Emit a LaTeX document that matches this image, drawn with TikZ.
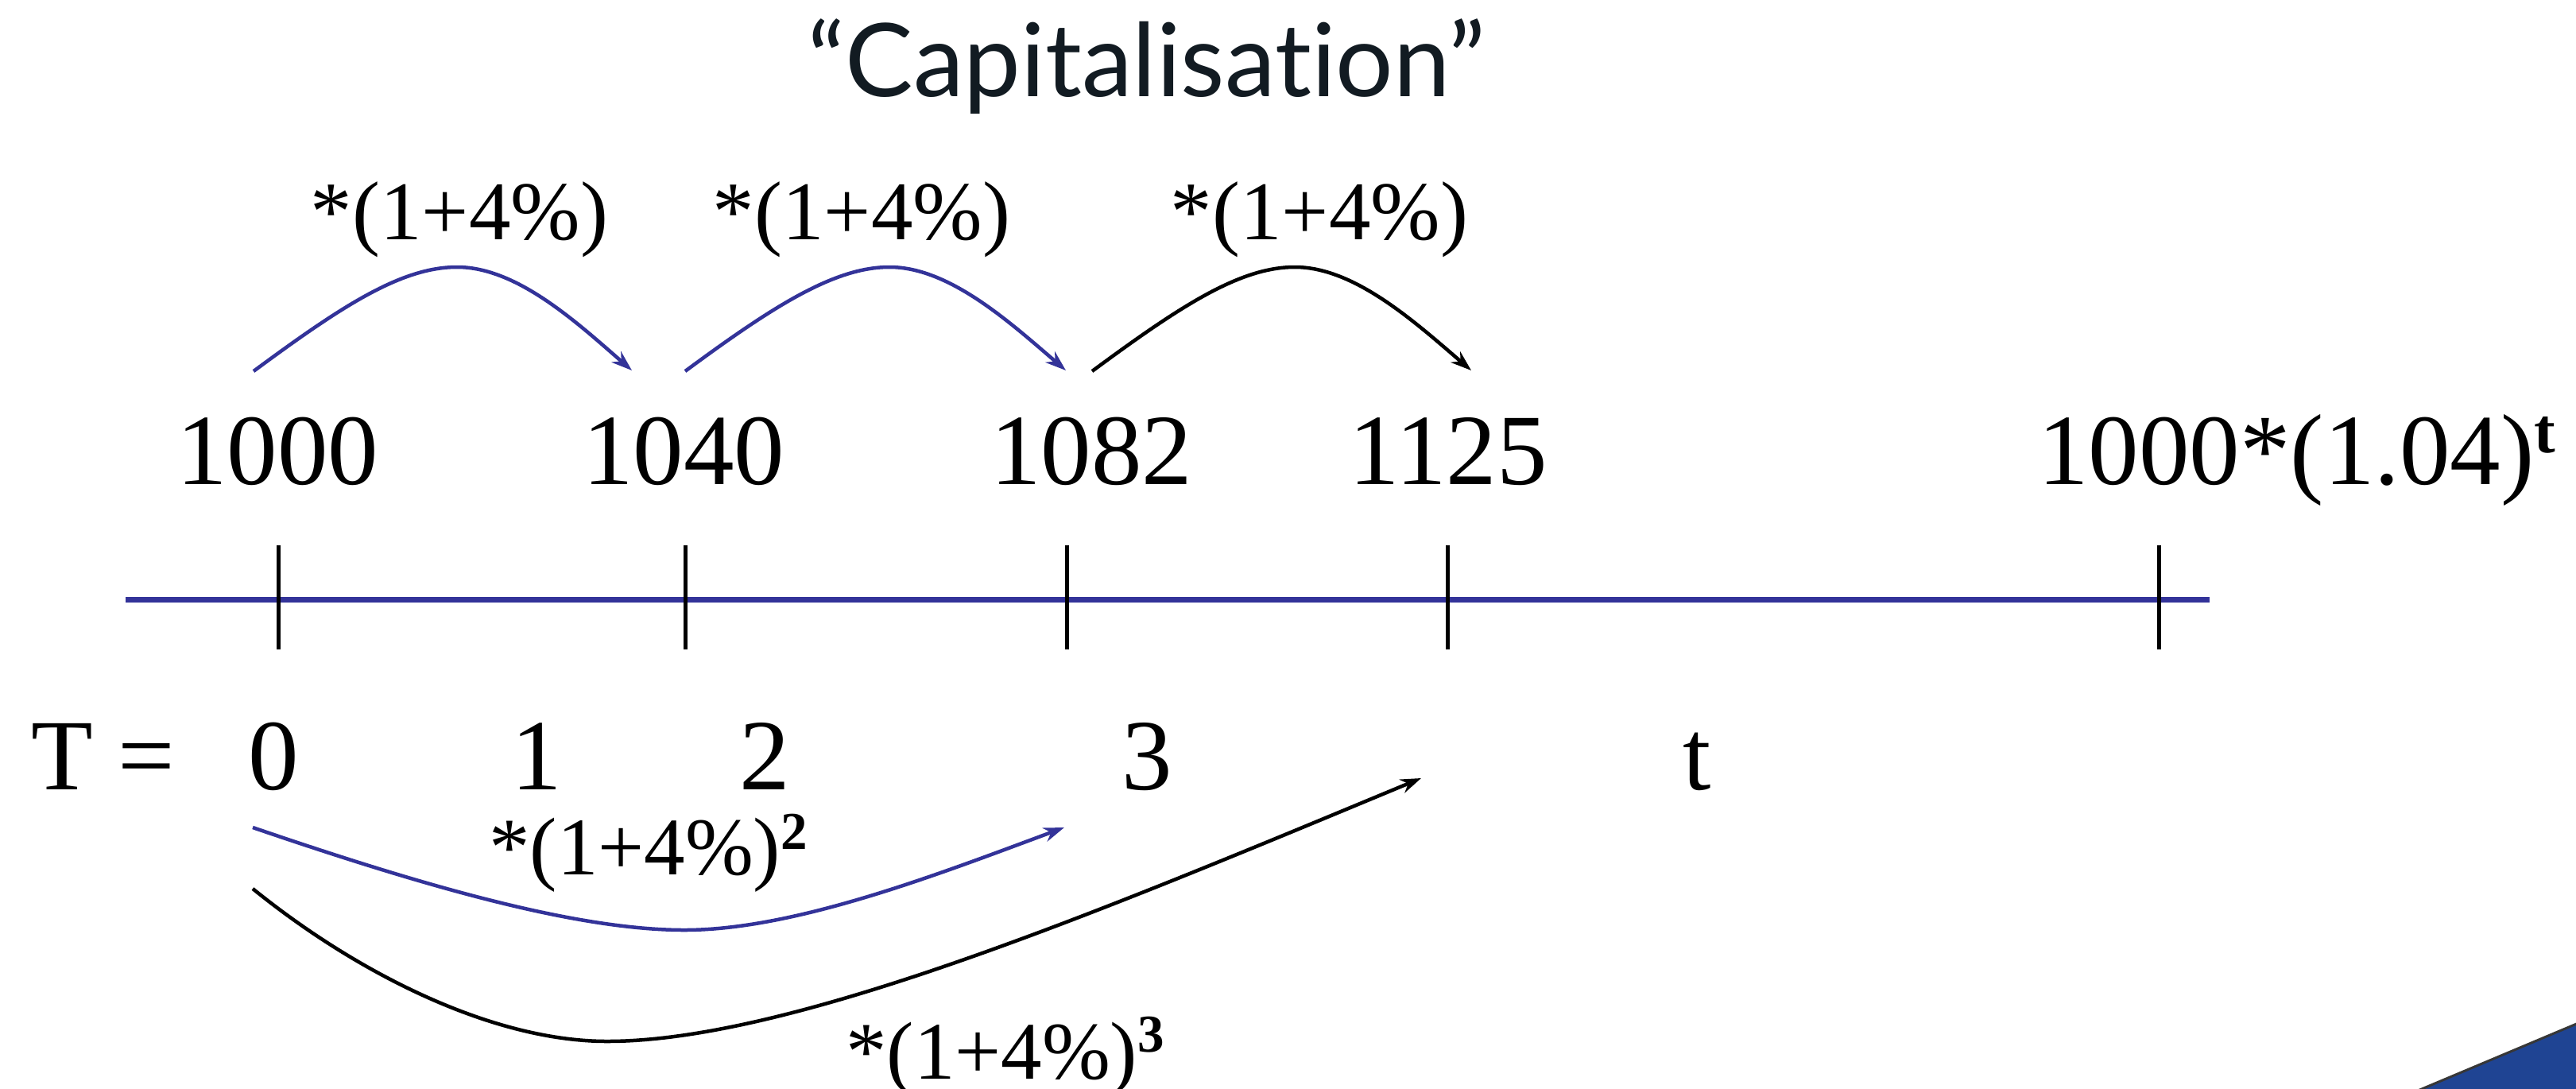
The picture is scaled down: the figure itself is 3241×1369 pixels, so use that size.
\documentclass[tikz,border=0pt]{standalone}
\usepackage{fontspec}
\setmainfont{Liberation Serif}
\newfontfamily\titlefont{Lato}[Ligatures={NoCommon,NoRare}]
\usetikzlibrary{arrows.meta}
\definecolor{axisblue}{RGB}{51,51,153}
\definecolor{titlecol}{RGB}{18,27,34}
\definecolor{cornerblue}{RGB}{31,68,147}
\definecolor{cornerline}{RGB}{55,55,55}
\newcommand{\fsz}[1]{\fontsize{#1}{#1}\selectfont}
\newcommand{\supb}[3]{\raisebox{#2pt}{\fsz{#1}\bfseries #3}}
\begin{document}
\begin{tikzpicture}[x=1pt,y=-1pt,
  lbl/.style={inner sep=0pt,anchor=base},
  factor/.style={lbl,font=\fsz{105}},
  amount/.style={lbl,font=\fsz{127}},
  period/.style={lbl,font=\fsz{127}},
  axisline/.style={draw=axisblue,line width=7pt},
  tickmark/.style={draw=black,line width=5pt},
  hop/.style={line width=4.5pt,-{Stealth[length=26pt,width=18pt]}},
  bluehop/.style={hop,draw=axisblue,-{Stealth[length=26pt,width=18pt,fill=axisblue]}},
  blackhop/.style={hop,draw=black},
]
\useasboundingbox (0,0) rectangle (3241,1369);
\fill[white] (0,0) rectangle (3241,1369);

% title
\node[lbl,font=\titlefont\fsz{128},text=titlecol] (title) at (1443,121) {“Capitalisat\kern0pt ion”};

% factor labels (top)
\node[factor] (f1) at (578,301) {*(1+4\%)};
\node[factor] (f2) at (1084,301) {*(1+4\%)};
\node[factor] (f3) at (1660,301) {*(1+4\%)};

% amounts
\node[amount] (a0) at (349,609) {1000};
\node[amount] (a1) at (860,609) {1040};
\node[amount] (a2) at (1373,609) {1082};
\node[amount] (a3) at (1822,609) {1125};
\node[amount,anchor=base west] (at) at (2564,609) {1000*(1.04)\supb{80}{40}{t}};

% axis
\coordinate (axL) at (158,754);
\coordinate (axR) at (2780,754);
\draw[axisline] (axL) -- (axR);
\foreach \x in {350,862,1342,1821,2716}{
  \draw[tickmark] (\x,686) -- (\x,817);
}

% periods
\node[period,anchor=base west] (T) at (39,993) {T =};
\node[period] (p0) at (344,993) {0};
\node[period] (p1) at (675,993) {1};
\node[period] (p2) at (962,993) {2};
\node[period] (p3) at (1443,993) {3};
\node[period] (pt) at (2135,993) {t};

% top hops
\coordinate (s1) at (319,467); \coordinate (e1) at (795,466);
\coordinate (s2) at (862,467); \coordinate (e2) at (1341,466);
\coordinate (s3) at (1374,467); \coordinate (e3) at (1851,466);
\draw[bluehop] (s1) .. controls (430,385) and (505,336) .. (575,336)
   .. controls (650,336) and (725,405) .. (e1);
\draw[bluehop] (s2) .. controls (973,385) and (1050,336) .. (1119,336)
   .. controls (1194,336) and (1270,405) .. (e2);
\draw[blackhop] (s3) .. controls (1485,385) and (1560,336) .. (1629,336)
   .. controls (1704,336) and (1780,405) .. (e3);

% bottom hops
\coordinate (b1s) at (318,1041); \coordinate (b1e) at (1339,1041);
\coordinate (b2s) at (318,1118); \coordinate (b2e) at (1788,979);
\draw[bluehop] (b1s) .. controls (520,1110) and (720,1170) .. (861,1170)
   .. controls (1000,1170) and (1180,1100) .. (b1e);
\draw[blackhop] (b2s) .. controls (450,1225) and (620,1310) .. (764,1310)
   .. controls (1000,1310) and (1400,1140) .. (b2e);

% bottom labels
\node[factor,font=\fsz{103},anchor=base west] (g2) at (615,1100) {*(1+4\%)\supb{67}{32}{2}};
\node[factor,font=\fsz{103},anchor=base west] (g3) at (1064,1357) {*(1+4\%)\supb{67}{34}{3}};

% corner triangle
\filldraw[fill=cornerblue,draw=cornerline,line width=3pt] (3042,1372) -- (3244,1287) -- (3244,1372) -- cycle;
\end{tikzpicture}
\end{document}
